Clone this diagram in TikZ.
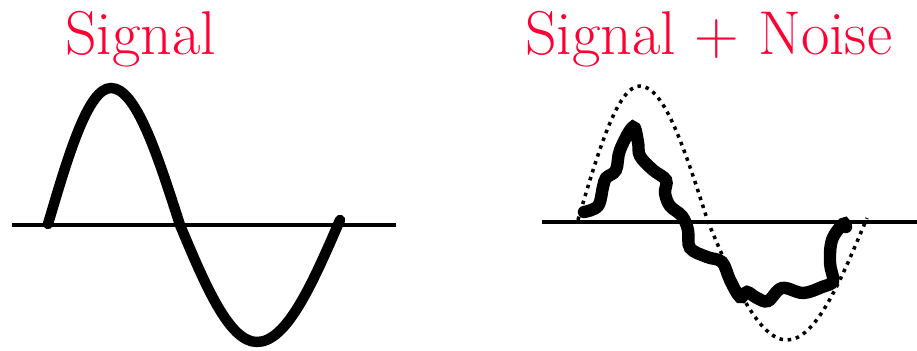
\documentclass[tikz,border=0pt]{standalone}
\definecolor{titlered}{RGB}{255,0,51}

\begin{document}
\begin{tikzpicture}[x=0.025cm,y=-0.025cm,line cap=round,
  title/.style={anchor=base west,inner sep=0pt,text=titlered,font=\rmfamily\fontsize{44}{50}\selectfont},
  axis/.style={line width=2.9pt,line cap=butt},
  wave/.style={line width=7.4pt}]
  \useasboundingbox (0,0) rectangle (917,350);
  % left: clean signal
  \node[title] (sigtitle) at (65,54) {Signal};
  \draw[axis] (12,225)--(396,225);
  \draw[wave] (48,224) sin (111,88) cos (180,225) sin (257,342) cos (340,220);
  % right: signal plus noise
  \node[title] (noisetitle) at (525,54) {Signal + Noise};
  \draw[axis] (542,222)--(917,222);
  \draw[line width=2.5pt,line cap=butt,dash pattern=on 2.5pt off 3.4pt]
    (578,220) sin (640,86) cos (708,222) sin (787,340) cos (867,218);
  \draw[wave,line width=8.8pt] plot[smooth,tension=0.6] coordinates {
    (584,212) (598,206) (603,187) (606,178) (616,170) (620,150) (633,127)
    (638,142) (640,156) (653,170) (666,180) (665,193) (670,206) (682,216)
    (688,230) (690,248) (707,257) (722,262) (730,280) (740,297) (747,292)
    (757,298) (768,301) (782,288) (803,293) (822,287) (833,281) (830,263)
    (832,240) (843,224) (846,227)};
\end{tikzpicture}
\end{document}
